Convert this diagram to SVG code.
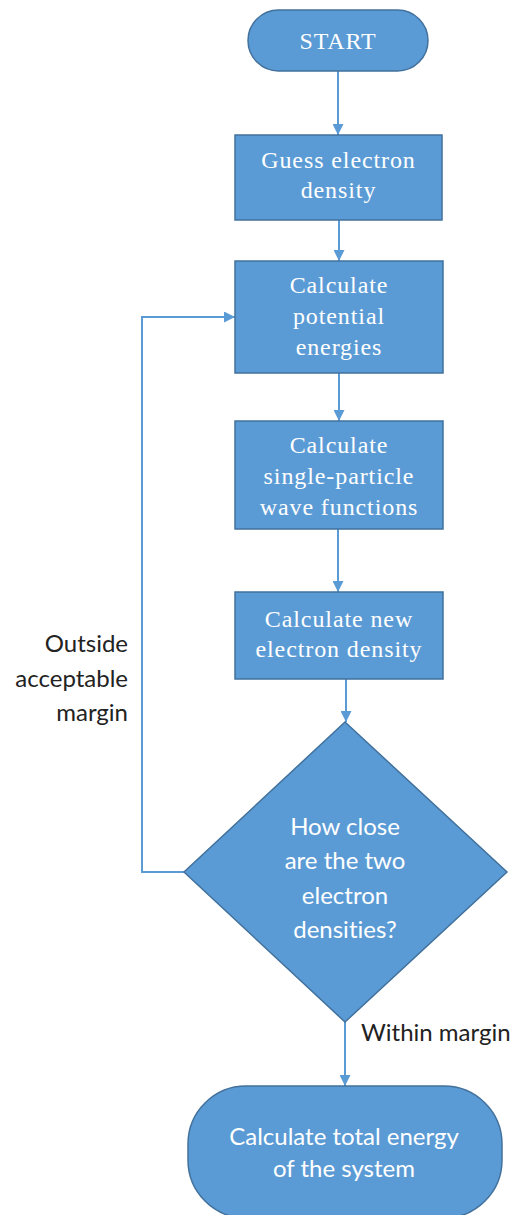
<svg xmlns="http://www.w3.org/2000/svg" width="513" height="1215" viewBox="0 0 513 1215">
<style>
.node{fill:#5B9BD5;stroke:#41719C;stroke-width:1.5}
.serif{font-family:"Liberation Serif","Times New Roman",serif;font-size:24px;letter-spacing:0.9px;fill:#ffffff;text-anchor:middle;dominant-baseline:central}
.sans{font-family:Lato,"Liberation Sans",Arial,sans-serif;font-size:24px;font-variant-ligatures:none;fill:#ffffff;text-anchor:middle;dominant-baseline:central}
.lbl{font-family:Lato,"Liberation Sans",Arial,sans-serif;font-size:24px;font-variant-ligatures:none;fill:#222222;dominant-baseline:central}
.conn{fill:none;stroke:#5B9BD5;stroke-width:2}
</style>
<defs>
<marker id="arrow" viewBox="0 0 10 10" refX="10" refY="5" markerWidth="5.5" markerHeight="5.5" orient="auto" markerUnits="strokeWidth">
<path d="M0,0 L10,5 L0,10 z" fill="#5B9BD5"/>
</marker>
</defs>
<rect width="513" height="1215" fill="#ffffff"/>
<g id="connectors">
<path class="conn" d="M338,71 L338,135" marker-end="url(#arrow)"/>
<path class="conn" d="M339,220 L339,261" marker-end="url(#arrow)"/>
<path class="conn" d="M339,373 L339,421" marker-end="url(#arrow)"/>
<path class="conn" d="M338,529 L338,592" marker-end="url(#arrow)"/>
<path class="conn" d="M346,679 L346,722" marker-end="url(#arrow)"/>
<path class="conn" d="M184,872 L142,872 L142,317 L235,317" marker-end="url(#arrow)"/>
<path class="conn" d="M345,1022 L345,1086" marker-end="url(#arrow)"/>
</g>
<g id="start">
<rect class="node" x="248" y="10" width="180" height="61" rx="30.5"/>
<text class="serif" x="338" y="41">START</text>
</g>
<g id="guess">
<rect class="node" x="235" y="135" width="207" height="85"/>
<text class="serif" x="338.5" y="160">Guess electron</text>
<text class="serif" x="338.5" y="190">density</text>
</g>
<g id="potential">
<rect class="node" x="235" y="261" width="208" height="112"/>
<text class="serif" x="339" y="285">Calculate</text>
<text class="serif" x="339" y="316">potential</text>
<text class="serif" x="339" y="347">energies</text>
</g>
<g id="wave">
<rect class="node" x="235" y="421" width="208" height="108"/>
<text class="serif" x="339" y="445">Calculate</text>
<text class="serif" x="339" y="476">single-particle</text>
<text class="serif" x="339" y="507">wave functions</text>
</g>
<g id="newdensity">
<rect class="node" x="235" y="592" width="208" height="87"/>
<text class="serif" x="339" y="619">Calculate new</text>
<text class="serif" x="339" y="649">electron density</text>
</g>
<g id="decision">
<polygon class="node" points="345,722 507,872 345,1022 184,872"/>
<text class="sans" x="345" y="825">How close</text>
<text class="sans" x="345" y="859">are the two</text>
<text class="sans" x="345" y="894">electron</text>
<text class="sans" x="345" y="928">densities?</text>
</g>
<g id="end">
<rect class="node" x="188" y="1086" width="314" height="132" rx="58"/>
<text class="sans" x="344" y="1135">Calculate total energy</text>
<text class="sans" x="344" y="1167">of the system</text>
</g>
<g id="labels">
<text class="lbl" x="128" y="642" text-anchor="end">Outside</text>
<text class="lbl" x="128" y="677" text-anchor="end">acceptable</text>
<text class="lbl" x="128" y="711" text-anchor="end">margin</text>
<text class="lbl" x="361" y="1031">Within margin</text>
</g>
</svg>
